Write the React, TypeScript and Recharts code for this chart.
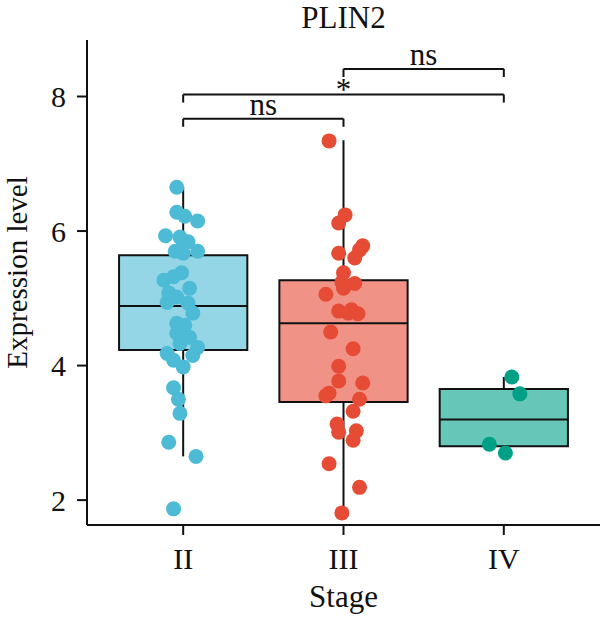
import React from 'react';
import { ComposedChart, Scatter, XAxis, YAxis, ReferenceArea, ReferenceLine } from 'recharts';

const stages = ['II', 'III', 'IV'];
const pointColors = ['#4DBBD5', '#E64B35', '#00A087'];

// jittered samples: expression value + horizontal jitter (in category units)
const valuesII = [6.65, 6.28, 6.22, 6.15, 5.93, 5.91, 5.84, 5.79, 5.70, 5.67, 5.70, 5.38, 5.32, 5.27, 5.15, 5.08, 5.02, 4.94, 4.93, 4.78, 4.63, 4.60, 4.48, 4.42, 4.33, 4.27, 4.18, 4.15, 4.08, 3.98, 3.67, 3.50, 3.29, 2.86, 2.65, 1.87];
const jitterII = [-0.04, -0.04, 0.01, 0.09, -0.11, -0.02, 0.03, 0.0, -0.05, 0.0, 0.09, -0.01, -0.06, -0.12, 0.04, -0.09, -0.04, -0.10, 0.03, 0.06, -0.04, 0.01, -0.04, 0.04, -0.02, 0.09, -0.10, 0.06, -0.06, 0.0, -0.06, -0.03, -0.02, -0.09, 0.08, -0.06];

const valuesIII = [7.34, 6.24, 6.12, 5.78, 5.72, 5.67, 5.60, 5.38, 5.24, 5.22, 5.15, 5.06, 4.81, 4.83, 4.77, 4.78, 4.50, 4.25, 3.99, 3.77, 3.74, 3.59, 3.55, 3.50, 3.32, 3.13, 3.01, 3.03, 2.89, 2.54, 2.19, 1.81];
const jitterIII = [-0.09, 0.01, -0.03, 0.12, 0.10, -0.03, 0.07, 0.0, -0.01, 0.07, 0.0, -0.11, -0.03, 0.05, 0.09, 0.03, -0.08, 0.06, -0.03, -0.03, 0.12, -0.09, -0.11, 0.10, 0.06, -0.04, -0.03, 0.08, 0.06, -0.09, 0.10, -0.01];

const valuesIV = [3.83, 3.58, 2.83, 2.70];
const jitterIV = [0.05, 0.10, -0.09, 0.01];

// box statistics per stage
const boxMin = [2.65, 1.81, 2.70];
const boxQ1 = [4.23, 3.46, 2.80];
const boxMedian = [4.885, 4.63, 3.20];
const boxQ3 = [5.64, 5.27, 3.65];
const boxMax = [6.65, 7.35, 3.83];

const yTicks = [2, 4, 6, 8];

// comparison brackets
const bracketFrom = [1, 1, 2];
const bracketTo = [2, 3, 3];
const bracketLevel = [7.67, 8.03, 8.41];
const bracketLabel = ['ns', '*', 'ns'];

const FONT = '"Liberation Serif", "Times New Roman", serif';
const INK = '#111';
const HALF_BOX = 0.4;
const TIP = 0.12;

const groups = [
  { values: valuesII, jitter: jitterII },
  { values: valuesIII, jitter: jitterIII },
  { values: valuesIV, jitter: jitterIV },
].map((g, i) => g.values.map((v, k) => ({ x: i + 1 + g.jitter[k], y: v })));

const dot = (color: string) => (props: any) => (
  <circle cx={props.cx} cy={props.cy} r={7.5} fill={color} />
);

const yLabel = (props: any) => {
  const vb = props.viewBox;
  const x = vb.x + 27;
  const y = vb.y + vb.height / 2 - 10;
  return (
    <text x={x} y={y} transform={`rotate(-90, ${x}, ${y})`} textAnchor="middle" fontSize={29} fontFamily={FONT} fill={INK}>
      Expression level
    </text>
  );
};

export default function App() {
  return (
    <div style={{ position: 'absolute', left: 0, top: 0, width: 600, height: 621, background: '#fff' }}>
      <div style={{ position: 'absolute', left: 87, top: 2, width: 513, textAlign: 'center', fontFamily: FONT, fontSize: 31, lineHeight: '31px', color: INK }}>
        PLIN2
      </div>
      <ComposedChart width={600} height={621} margin={{ top: 40, right: 0, bottom: 0, left: 0 }}>
        <XAxis
          type="number"
          dataKey="x"
          domain={[0.4, 3.6]}
          ticks={[1, 2, 3]}
          tickFormatter={(v: number) => stages[v - 1]}
          height={96}
          tickSize={10}
          tickMargin={13}
          axisLine={{ stroke: INK, strokeWidth: 2 }}
          tickLine={{ stroke: INK, strokeWidth: 2 }}
          tick={{ fill: INK, fontSize: 30, fontFamily: FONT }}
          label={{ value: 'Stage', position: 'insideBottom', offset: 14, fill: INK, fontSize: 31, fontFamily: FONT }}
        />
        <YAxis
          type="number"
          dataKey="y"
          domain={[1.63, 8.84]}
          ticks={yTicks}
          width={87}
          tickSize={10}
          tickMargin={11}
          axisLine={{ stroke: INK, strokeWidth: 2 }}
          tickLine={{ stroke: INK, strokeWidth: 2 }}
          tick={{ fill: INK, fontSize: 30, fontFamily: FONT }}
          label={{ content: yLabel }}
        />

        {stages.map((s, i) => (
          <ReferenceArea
            key={'box' + s}
            x1={i + 1 - HALF_BOX}
            x2={i + 1 + HALF_BOX}
            y1={boxQ1[i]}
            y2={boxQ3[i]}
            fill={pointColors[i]}
            fillOpacity={0.6}
            stroke={INK}
            strokeWidth={2}
          />
        ))}
        {stages.map((s, i) => (
          <ReferenceLine key={'med' + s} segment={[{ x: i + 1 - HALF_BOX, y: boxMedian[i] }, { x: i + 1 + HALF_BOX, y: boxMedian[i] }]} stroke={INK} strokeWidth={2} />
        ))}
        {stages.map((s, i) => (
          <ReferenceLine key={'wu' + s} segment={[{ x: i + 1, y: boxQ3[i] }, { x: i + 1, y: boxMax[i] }]} stroke={INK} strokeWidth={2} />
        ))}
        {stages.map((s, i) => (
          <ReferenceLine key={'wl' + s} segment={[{ x: i + 1, y: boxQ1[i] }, { x: i + 1, y: boxMin[i] }]} stroke={INK} strokeWidth={2} />
        ))}

        {bracketLabel.map((lab, b) => (
          <ReferenceLine
            key={'br' + b}
            segment={[{ x: bracketFrom[b], y: bracketLevel[b] }, { x: bracketTo[b], y: bracketLevel[b] }]}
            stroke={INK}
            strokeWidth={2}
            label={{ value: lab, position: 'top', offset: lab === '*' ? -6 : 4, fill: INK, fontSize: 31, fontFamily: FONT }}
          />
        ))}
        {bracketLabel.map((lab, b) => (
          <ReferenceLine key={'bl' + b} segment={[{ x: bracketFrom[b], y: bracketLevel[b] }, { x: bracketFrom[b], y: bracketLevel[b] - TIP }]} stroke={INK} strokeWidth={2} />
        ))}
        {bracketLabel.map((lab, b) => (
          <ReferenceLine key={'brt' + b} segment={[{ x: bracketTo[b], y: bracketLevel[b] }, { x: bracketTo[b], y: bracketLevel[b] - TIP }]} stroke={INK} strokeWidth={2} />
        ))}

        {groups.map((data, i) => (
          <Scatter key={'pts' + i} data={data} fill={pointColors[i]} shape={dot(pointColors[i])} isAnimationActive={false} />
        ))}
      </ComposedChart>
    </div>
  );
}
